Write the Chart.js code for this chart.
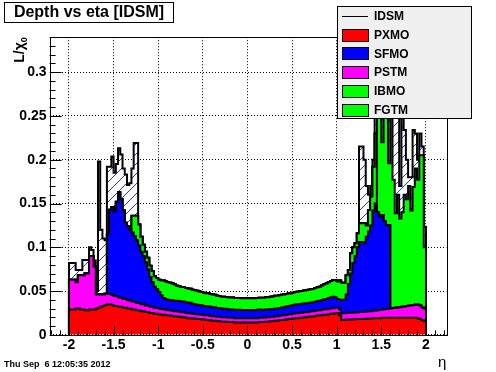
<!DOCTYPE html>
<html>
<head>
<meta charset="utf-8">
<script src="https://cdn.jsdelivr.net/npm/chart.js@4.4.1/dist/chart.umd.min.js"></script>
<style>
  html, body { margin: 0; padding: 0; background: #fff; }
  #wrap { position: relative; width: 496px; height: 372px; }
</style>
</head>
<body>
<div id="wrap"><canvas id="depthChart" width="496" height="372"></canvas></div>
<script>
// 160 eta bins of 0.025 from -2 to 2 (values are L/X0 per bin)
const etaMin = -2;
const binWidth = 0.025;

const pxmo = [
  0.029,0.029,0.029,0.030,0.030,0.029,0.029,0.028, 0.028,0.029,0.029,0.029,0.030,0.031,0.032,0.033,
  0.034,0.035,0.035,0.034,0.033,0.033,0.032,0.032, 0.031,0.031,0.030,0.030,0.029,0.029,0.028,0.028,
  0.027,0.027,0.026,0.026,0.025,0.025,0.024,0.024, 0.0235,0.023,0.023,0.0225,0.022,0.022,0.0215,0.021,
  0.021,0.0205,0.020,0.020,0.0195,0.019,0.019,0.0185, 0.0185,0.018,0.018,0.0178,0.0175,0.017,0.017,0.0165,
  0.016,0.016,0.0155,0.0155,0.015,0.015,0.015,0.0145, 0.0145,0.0145,0.014,0.014,0.014,0.014,0.014,0.014,
  0.014,0.014,0.014,0.014,0.014,0.0145,0.0145,0.0145, 0.015,0.015,0.0155,0.0155,0.016,0.016,0.0165,0.017,
  0.017,0.0175,0.018,0.018,0.0185,0.019,0.019,0.0195, 0.0195,0.020,0.020,0.0205,0.021,0.021,0.0215,0.022,
  0.022,0.0225,0.023,0.023,0.0235,0.024,0.024,0.0245, 0.0245,0.022,0.017,0.017,0.0175,0.0175,0.0175,0.0178,
  0.0178,0.018,0.018,0.018,0.018,0.0182,0.0185,0.0185, 0.019,0.019,0.019,0.019,0.0195,0.0195,0.0195,0.0196,
  0.0196,0.0196,0.0196,0.0196,0.0196,0.0196,0.0196,0.0196, 0.0196,0.0196,0.0196,0.0195,0.019,0.018,0.0165,0.016
];
const pstm = [
  0.034,0.034,0.034,0.030,0.038,0.039,0.039,0.042, 0.042,0.061,0.061,0.049,0.016,0.015,0.014,0.013,
  0.013,0.012,0.012,0.0115,0.0112,0.011,0.0105,0.0102, 0.010,0.0098,0.0095,0.0093,0.009,0.0088,0.0085,0.0083,
  0.008,0.0078,0.0076,0.0074,0.0072,0.007,0.0068,0.0066, 0.0065,0.0064,0.0063,0.0062,0.0061,0.006,0.006,0.0059,
  0.0058,0.0058,0.0057,0.0057,0.0056,0.0056,0.0055,0.0055, 0.0054,0.0054,0.0053,0.0053,0.0052,0.0052,0.0052,0.0051,
  0.0051,0.0051,0.005,0.005,0.005,0.005,0.005,0.005, 0.005,0.005,0.005,0.005,0.005,0.005,0.005,0.005,
  0.005,0.005,0.005,0.005,0.005,0.005,0.005,0.005, 0.005,0.005,0.005,0.005,0.0051,0.0051,0.0052,0.0052,
  0.0053,0.0053,0.0054,0.0054,0.0055,0.0055,0.0056,0.0056, 0.0057,0.0057,0.0058,0.0058,0.0059,0.0059,0.006,0.006,
  0.0061,0.0061,0.0062,0.0062,0.0063,0.0063,0.0064,0.0064, 0.0065,0.007,0.0076,0.0076,0.0076,0.0076,0.0077,0.0077,
  0.0078,0.0079,0.008,0.0081,0.0082,0.0083,0.0084,0.0085, 0.0087,0.0089,0.0091,0.0093,0.0095,0.0098,0.010,0.0103,
  0.0106,0.011,0.0113,0.0117,0.012,0.0124,0.0128,0.0132, 0.0136,0.014,0.0145,0.015,0.0153,0.0155,0.0145,0.014
];
const sfmo = [
  0,0,0,0,0,0,0,0, 0,0,0,0,0,0,0,0,
  0,0.068,0.096,0.1005,0.0968,0.108,0.1205,0.1128, 0.101,0.0872,0.0845,0.0807,0.079,0.0752,0.0715,0.0657,
  0.060,0.0552,0.0494,0.0416,0.0338,0.028,0.0242,0.0214, 0.019,0.0156,0.0127,0.0123,0.0119,0.0119,0.012,0.0121,
  0.0122,0.0122,0.0123,0.0123,0.0124,0.0122,0.012,0.0115, 0.0111,0.011,0.0108,0.0106,0.0103,0.0104,0.0104,0.0104,
  0.0104,0.0103,0.0102,0.0101,0.010,0.0099,0.0097,0.0096, 0.0095,0.0095,0.0095,0.0095,0.0095,0.0094,0.0094,0.0093,
  0.0093,0.0093,0.0094,0.0094,0.0095,0.0093,0.0092,0.0091, 0.009,0.009,0.0089,0.0089,0.0089,0.009,0.009,0.0091,
  0.0092,0.0094,0.0096,0.0098,0.010,0.0101,0.0102,0.0102, 0.0103,0.0102,0.0102,0.0101,0.0101,0.0102,0.0104,0.0106,
  0.0109,0.0112,0.0115,0.0118,0.0122,0.0126,0.0132,0.012, 0.010,0.011,0.0154,0.0154,0.0209,0.0329,0.0449,0.0565,
  0.0644,0.0741,0.080,0.0799,0.0788,0.0855,0.0911,0.098, 0.1143,0.1221,0.1119,0.1067,0.108,0.1007,0.096,0.0956,
  0,0,0,0,0,0,0,0, 0,0,0,0,0,0,0,0
];
const ibmo = [
  0,0,0,0,0,0,0,0, 0,0,0,0,0,0,0,0,
  0,0,0,0,0,0,0,0, 0,0,0,0,0.019,0.023,0.028,0.024,
  0.017,0.013,0.012,0.013,0.013,0.013,0.012,0.013, 0.014,0.017,0.020,0.020,0.020,0.0195,0.019,0.0185,
  0.017,0.017,0.0165,0.0165,0.016,0.016,0.016,0.016, 0.016,0.0158,0.0155,0.0152,0.015,0.015,0.0148,0.0147,
  0.0145,0.0143,0.014,0.0138,0.0136,0.0136,0.0135,0.0135, 0.0135,0.0135,0.0135,0.0135,0.0135,0.0134,0.0134,0.0134,
  0.0134,0.0134,0.0134,0.0135,0.0135,0.0136,0.0137,0.0138, 0.014,0.014,0.0142,0.0143,0.0145,0.0145,0.0145,0.0145,
  0.0145,0.0144,0.0142,0.014,0.014,0.0142,0.0143,0.0144, 0.0145,0.0147,0.0148,0.015,0.015,0.0152,0.0155,0.0158,
  0.016,0.0165,0.017,0.0175,0.018,0.0185,0.019,0.0195, 0.020,0.022,0.0196,0.0196,0.022,0.016,0.023,0.018,
  0.0145,0.016,0.0214,0.0214,0.0224,0.013,0.0246,0.033, 0.05,0.08,0,0,0,0,0,0,
  0,0,0,0,0,0,0,0, 0,0,0,0,0,0,0,0
];
const fgtm = [
  0,0,0,0,0,0,0,0, 0,0,0,0,0,0,0,0,
  0,0,0,0,0,0,0,0, 0,0,0,0,0,0,0,0,
  0,0,0,0,0,0,0,0, 0,0,0,0,0,0,0,0,
  0,0,0,0,0,0,0,0, 0,0,0,0,0,0,0,0,
  0,0,0,0,0,0,0,0, 0,0,0,0,0,0,0,0,
  0,0,0,0,0,0,0,0, 0,0,0,0,0,0,0,0,
  0,0,0,0,0,0,0,0, 0,0,0,0,0,0,0,0,
  0,0,0,0,0,0,0,0, 0,0,0,0,0,0,0,0,
  0,0,0,0,0,0,0,0, 0,0,0.13,0.115,0.083,0.15,0.1445,0.0705,
  0.2498,0.1464,0.1081,0.1287,0.1014,0.108,0.1276,0.1222, 0.1368,0.1084,0.1349,0.1555,0.1427,0.1715,0.174,0.070
];
const idsm = [
  0.082,0.082,0.082,0.074,0.074,0.074,0.0855,0.0855, 0.0855,0.100,0.097,0.085,0.050,0.198,0.120,0.110,
  0.108,0.192,0.192,0.2036,0.185,0.195,0.213,0.206, 0.190,0.183,0.171,0.173,0.190,0.219,0.219,0.126,
  0.112,0.103,0.095,0.088,0.079,0.073,0.067,0.065, 0.063,0.062,0.062,0.061,0.060,0.0594,0.0585,0.0575,
  0.056,0.0555,0.0545,0.0545,0.0535,0.0528,0.0525,0.0515, 0.051,0.0502,0.0496,0.0489,0.048,0.0476,0.0474,0.0467,
  0.046,0.0457,0.0447,0.0444,0.0436,0.0435,0.0432,0.0426, 0.0425,0.0425,0.042,0.042,0.042,0.0418,0.0418,0.0417,
  0.0417,0.0417,0.0418,0.0419,0.042,0.0424,0.0424,0.0424, 0.043,0.043,0.0436,0.0437,0.0445,0.0446,0.0452,0.0458,
  0.046,0.0466,0.0472,0.0472,0.048,0.0488,0.0491,0.0497, 0.050,0.0506,0.0508,0.0514,0.052,0.0523,0.0534,0.0544,
  0.055,0.0563,0.0577,0.0585,0.060,0.0614,0.0626,0.0624, 0.061,0.062,0.0596,0.0596,0.068,0.074,0.0931,0.100,
  0.1045,0.116,0.215,0.215,0.200,0.170,0.160,0.170, 0.200,0.260,0.300,0.324,0.310,0.290,0.300,0.270,
  0.300,0.280,0.270,0.250,0.170,0.260,0.234,0.200, 0.180,0.180,0.234,0.230,0.200,0.230,0.215,0.1235
];

const xMin = -2.217, xMax = 2.229;
const yMin = 0, yMax = 0.34;

const binLow = pxmo.map((_, i) => etaMin + binWidth * i);
const etaMax = etaMin + binWidth * pxmo.length;

function histPoints(values) {
  const pts = [{ x: etaMin - 1e-6, y: 0 }];
  values.forEach((v, i) => pts.push({ x: binLow[i], y: v }));
  pts.push({ x: etaMax, y: values[values.length - 1] });
  pts.push({ x: etaMax + 1e-6, y: 0 });
  return pts;
}

function makeHatch() {
  const c = document.createElement('canvas');
  c.width = 10; c.height = 10;
  const g = c.getContext('2d');
  g.fillStyle = '#ffffff';
  g.fillRect(0, 0, 10, 10);
  g.strokeStyle = '#2030ff';
  g.lineWidth = 1;
  g.beginPath();
  g.moveTo(0, 10); g.lineTo(10, 0);
  g.moveTo(-5, 5); g.lineTo(5, -5);
  g.moveTo(5, 15); g.lineTo(15, 5);
  g.stroke();
  return g.createPattern(c, 'repeat');
}

const FONT = 'Liberation Sans, Arial, Helvetica, sans-serif';
const fmt = v => parseFloat(Number(v).toFixed(2)).toString();

function layer(label, values, color, fill) {
  return {
    label, data: histPoints(values), stack: 'layers',
    backgroundColor: color, borderColor: '#000', borderWidth: 2,
    fill, stepped: true, pointRadius: 0, borderJoinStyle: 'miter'
  };
}

const legendItems = [
  { text: 'IDSM', line: true },
  { text: 'PXMO', color: '#ff0000' },
  { text: 'SFMO', color: '#0000ff' },
  { text: 'PSTM', color: '#ff00ff' },
  { text: 'IBMO', color: '#00ff00' },
  { text: 'FGTM', color: '#00ff00' }
];

// ROOT-like frame, inner ticks, title box, legend box and axis titles
const rootDecor = {
  id: 'rootDecor',
  afterDatasetsDraw(chart) {
    const { ctx, chartArea: a, scales: { x, y } } = chart;
    ctx.save();
    ctx.strokeStyle = '#000';
    ctx.lineWidth = 1;
    ctx.beginPath();
    for (let k = -25; k <= 25; k++) {
      const v = k / 10;
      if (v < x.min || v > x.max) continue;
      const px = Math.round(x.getPixelForValue(v)) + 0.5;
      const len = k % 5 === 0 ? 9 : 4.5;
      ctx.moveTo(px, a.bottom);
      ctx.lineTo(px, a.bottom - len);
    }
    for (let k = 0; k <= 34; k++) {
      const py = Math.round(y.getPixelForValue(k / 100)) + 0.5;
      const len = k % 5 === 0 ? 12 : 6;
      ctx.moveTo(a.left, py);
      ctx.lineTo(a.left + len, py);
    }
    ctx.stroke();
    ctx.strokeRect(Math.round(a.left) + 0.5, Math.round(a.top) + 0.5,
      Math.round(a.right - a.left), Math.round(a.bottom - a.top));
    ctx.restore();
  },
  afterDraw(chart) {
    const { ctx, chartArea: a } = chart;
    ctx.save();
    ctx.fillStyle = '#000';

    // title box
    ctx.fillStyle = '#fff';
    ctx.fillRect(4.5, 2.5, 169, 20);
    ctx.strokeStyle = '#000';
    ctx.lineWidth = 1;
    ctx.strokeRect(4.5, 2.5, 169, 20);
    ctx.fillStyle = '#000';
    ctx.font = 'bold 16px ' + FONT;
    ctx.textAlign = 'center';
    ctx.textBaseline = 'middle';
    ctx.fillText('Depth vs eta [IDSM]', 89, 13);

    // legend box
    ctx.fillStyle = '#f0f0f0';
    ctx.fillRect(337.5, 6.5, 134, 112);
    ctx.strokeRect(337.5, 6.5, 134, 112);
    ctx.font = 'bold 12px ' + FONT;
    ctx.textAlign = 'left';
    legendItems.forEach((it, i) => {
      const cy = 16 + i * 18.7;
      if (it.line) {
        ctx.beginPath();
        ctx.moveTo(342, Math.round(cy) + 0.5);
        ctx.lineTo(368, Math.round(cy) + 0.5);
        ctx.stroke();
      } else {
        ctx.fillStyle = it.color;
        ctx.fillRect(342.5, Math.round(cy - 6) + 0.5, 26, 12);
        ctx.strokeRect(342.5, Math.round(cy - 6) + 0.5, 26, 12);
      }
      ctx.fillStyle = '#000';
      ctx.fillText(it.text, 374, cy + 1);
    });

    // y axis title L/chi_0
    ctx.save();
    ctx.translate(24, a.top);
    ctx.rotate(-Math.PI / 2);
    ctx.textBaseline = 'alphabetic';
    ctx.font = 'bold 14px ' + FONT;
    const main = 'L/\u03c7';
    const w1 = ctx.measureText(main).width;
    ctx.font = 'bold 9px ' + FONT;
    const w0 = ctx.measureText('0').width;
    ctx.font = 'bold 14px ' + FONT;
    ctx.fillText(main, -(w1 + w0), 0);
    ctx.font = 'bold 9px ' + FONT;
    ctx.fillText('0', -w0, 3);
    ctx.restore();

    // x axis title
    ctx.font = '15px ' + FONT;
    ctx.textAlign = 'right';
    ctx.textBaseline = 'alphabetic';
    ctx.fillText('\u03b7', a.right, 367);

    // date stamp
    ctx.font = 'bold 9px ' + FONT;
    ctx.textAlign = 'left';
    ctx.fillText('Thu Sep  6 12:05:35 2012', 4, 367);
    ctx.restore();
  }
};

const ctx = document.getElementById('depthChart').getContext('2d');
const depthChart = new Chart(ctx, {
  type: 'line',
  data: {
    datasets: [
      layer('PXMO', pxmo, '#ff0000', 'origin'),
      layer('PSTM', pstm, '#ff00ff', '-1'),
      layer('SFMO', sfmo, '#0000ff', '-1'),
      layer('IBMO', ibmo, '#00ff00', '-1'),
      layer('FGTM', fgtm, '#00ff00', '-1'),
      {
        label: 'IDSM', data: histPoints(idsm), stack: 'total',
        backgroundColor: makeHatch(), borderColor: '#000', borderWidth: 2,
        fill: '-1', stepped: true, pointRadius: 0, borderJoinStyle: 'miter'
      }
    ]
  },
  options: {
    responsive: false,
    animation: false,
    devicePixelRatio: 1,
    layout: { padding: { top: 37.2, right: 49.6, left: 0, bottom: 0 } },
    plugins: {
      legend: { display: false },
      title: { display: false },
      tooltip: { enabled: false }
    },
    scales: {
      x: {
        type: 'linear', min: xMin, max: xMax,
        afterFit: s => { s.height = 37.2; },
        ticks: {
          stepSize: 0.5, includeBounds: false, autoSkip: false, maxRotation: 0,
          color: '#000', padding: 2, callback: fmt,
          font: { family: FONT, size: 14, weight: 'bold' }
        },
        grid: { color: '#000', lineWidth: 1, drawTicks: false },
        border: { display: false, dash: [1, 2] }
      },
      y: {
        stacked: true, min: yMin, max: yMax,
        afterFit: s => { s.width = 49.6; },
        ticks: {
          stepSize: 0.05, includeBounds: false, color: '#000', padding: 3, callback: fmt,
          font: { family: FONT, size: 14, weight: 'bold' }
        },
        grid: { color: '#000', lineWidth: 1, drawTicks: false },
        border: { display: false, dash: [1, 2] }
      }
    }
  },
  plugins: [rootDecor]
});
</script>
</body>
</html>
